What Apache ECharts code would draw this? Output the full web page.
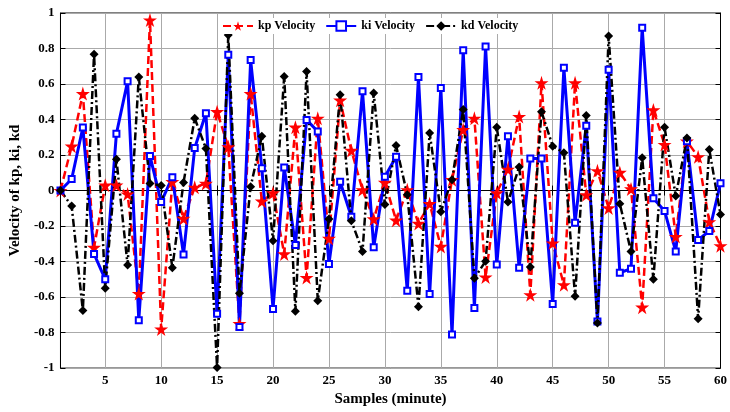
<!DOCTYPE html>
<html>
<head>
<meta charset="utf-8">
<script src="https://cdn.jsdelivr.net/npm/echarts@6/dist/echarts.min.js"></script>
<style>
  html, body { margin: 0; padding: 0; background: #fff; }
  #chart { width: 730px; height: 412px; }
</style>
</head>
<body>
<div id="chart"></div>
<script>
// samples 1..60
var samples = [];
for (var s = 1; s <= 60; s++) samples.push(s);

var xTicks = [5, 10, 15, 20, 25, 30, 35, 40, 45, 50, 55, 60];

var kp = [0, 0.25, 0.546, -0.32, 0.03, 0.03, -0.02, -0.58, 0.96, -0.78,
  0.05, -0.157, 0.018, 0.04, 0.444, 0.246, -0.75, 0.546, -0.06, -0.013,
  -0.357, 0.357, -0.49, 0.407, -0.27, 0.509, 0.226, 0.004, -0.16, 0.046,
  -0.167, 0.004, -0.185, -0.074, -0.315, 0.061, 0.343, 0.407, -0.487, -0.013,
  0.12, 0.417, -0.587, 0.607, -0.296, -0.531, 0.607, -0.024, 0.111, -0.098,
  0.102, 0.009, -0.657, 0.454, 0.259, -0.259, 0.278, 0.19, -0.176, -0.311];

var ki = [0, 0.065, 0.355, -0.357, -0.5, 0.32, 0.615, -0.73, 0.195, -0.065,
  0.075, -0.36, 0.24, 0.435, -0.694, 0.765, -0.768, 0.735, 0.126, -0.667,
  0.13, -0.306, 0.398, 0.333, -0.413, 0.05, -0.148, 0.559, -0.32, 0.078,
  0.19, -0.565, 0.639, -0.583, 0.578, -0.811, 0.79, -0.661, 0.811, -0.417,
  0.306, -0.435, 0.181, 0.181, -0.639, 0.691, -0.181, 0.365, -0.737, 0.68,
  -0.463, -0.44, 0.917, -0.043, -0.115, -0.343, 0.278, -0.278, -0.228, 0.041];

var kd = [0, -0.087, -0.676, 0.768, -0.55, 0.176, -0.42, 0.64, 0.04, 0.028,
  -0.435, 0.046, 0.407, 0.237, -0.996, 0.876, -0.578, 0.022, 0.306, -0.283,
  0.643, -0.68, 0.67, -0.62, -0.16, 0.54, -0.17, -0.343, 0.55, -0.078,
  0.254, -0.024, -0.654, 0.324, -0.12, 0.061, 0.457, -0.494, -0.398, 0.356,
  -0.065, 0.133, -0.431, 0.444, 0.25, 0.213, -0.596, 0.422, -0.746, 0.87,
  -0.074, -0.343, 0.185, -0.5, 0.356, -0.031, 0.296, -0.722, 0.231, -0.135];

function pairs(arr) {
  var out = [];
  for (var i = 0; i < arr.length; i++) out.push([samples[i], arr[i]]);
  return out;
}

var font = 'Liberation Serif';
var chart = echarts.init(document.getElementById('chart'));

var option = {
  animation: false,
  backgroundColor: '#fff',
  grid: {
    left: 54, right: 4, top: 13, bottom: 38,
    show: true, borderColor: '#000', borderWidth: 1
  },
  legend: {
    top: 18, left: 218,
    itemGap: 10,
    itemWidth: 30, itemHeight: 12,
    backgroundColor: '#fff',
    padding: [2, 4],
    textStyle: { fontFamily: font, fontWeight: 'bold', fontSize: 12, color: '#000' },
    data: ['kp Velocity', 'ki Velocity', 'kd Velocity']
  },
  xAxis: [{
    type: 'value', min: 1, max: 60,
    name: 'Samples (minute)', nameLocation: 'middle', nameGap: 22,
    nameTextStyle: { fontFamily: font, fontWeight: 'bold', fontSize: 15, color: '#000' },
    axisLine: { lineStyle: { color: '#000' } },
    axisTick: { inside: true, length: 5, customValues: xTicks, lineStyle: { color: '#000' } },
    axisLabel: { customValues: xTicks, fontFamily: font, fontWeight: 'bold', fontSize: 13, color: '#000', margin: 6 },
    splitLine: { show: true, lineStyle: { color: '#aaa', width: 1 } }
  }, {
    type: 'value', min: 1, max: 60, position: 'top',
    axisLine: { lineStyle: { color: '#000' } },
    axisTick: { inside: true, length: 5, customValues: xTicks, lineStyle: { color: '#000' } },
    axisLabel: { show: false },
    splitLine: { show: false }
  }],
  yAxis: [{
    type: 'value', min: -1, max: 1, interval: 0.2,
    name: 'Velocity of kp, ki, kd', nameLocation: 'middle', nameGap: 31,
    nameTextStyle: { fontFamily: font, fontWeight: 'bold', fontSize: 15, color: '#000' },
    axisLine: { show: true, lineStyle: { color: '#000' } },
    axisTick: { show: true, inside: true, length: 5, lineStyle: { color: '#000' } },
    axisLabel: { fontFamily: font, fontWeight: 'bold', fontSize: 13, color: '#000', margin: 6 },
    splitLine: { show: true, lineStyle: { color: '#aaa', width: 1 } }
  }, {
    type: 'value', min: -1, max: 1, interval: 0.2, position: 'right',
    axisLine: { show: true, lineStyle: { color: '#000' } },
    axisTick: { show: true, inside: true, length: 5, lineStyle: { color: '#000' } },
    axisLabel: { show: false },
    splitLine: { show: false }
  }],
  series: [{
    name: 'kp Velocity', type: 'line', data: pairs(kp),
    symbol: 'path://M50,0 L61,35 L98,35 L68,57 L79,91 L50,70 L21,91 L32,57 L2,35 L39,35 Z',
    symbolSize: 14,
    itemStyle: { color: '#ff0000' },
    lineStyle: { color: '#ff0000', width: 2.5, type: [8, 4] }
  }, {
    name: 'ki Velocity', type: 'line', data: pairs(ki),
    symbol: 'emptyRect', symbolSize: 6,
    itemStyle: { color: '#0000ff', borderWidth: 3 },
    lineStyle: { color: '#0000ff', width: 3 }
  }, {
    name: 'kd Velocity', type: 'line', data: pairs(kd),
    symbol: 'diamond', symbolSize: 9,
    itemStyle: { color: '#000' },
    lineStyle: { color: '#000', width: 2.5, type: [8, 3, 2, 3] }
  }]
};

chart.setOption(option);
</script>
</body>
</html>
